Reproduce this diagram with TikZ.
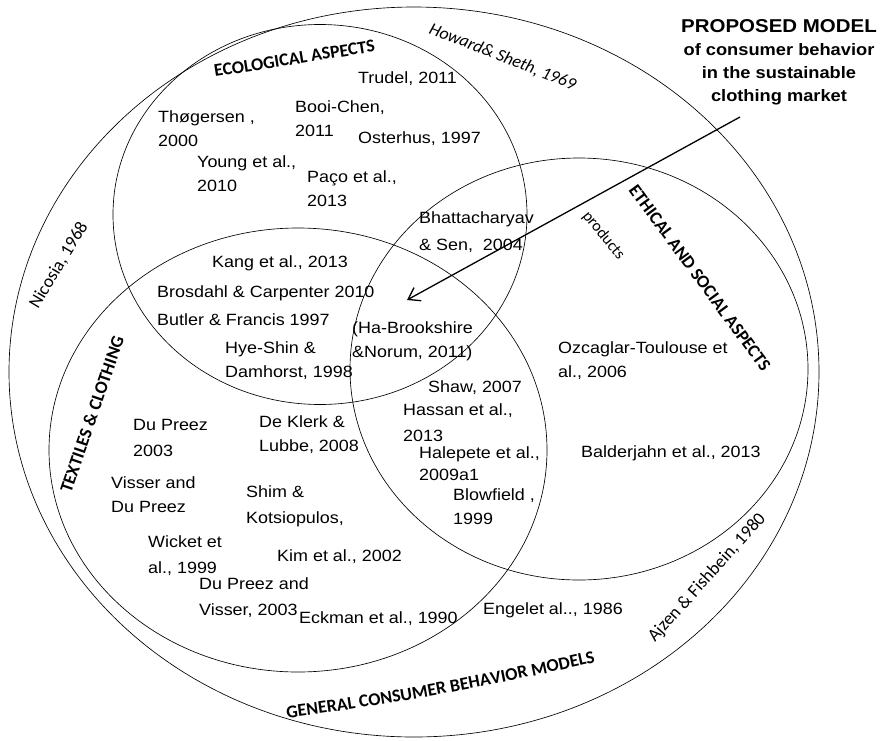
\documentclass[tikz,border=0pt]{standalone}
\usepackage{fontspec}
\usetikzlibrary{arrows.meta,decorations.text}
\newfontfamily\reffamily[FakeStretch=1.1]{Liberation Sans}
\newfontfamily\headfamily{Carlito}
\newcommand\reffont{\reffamily\fontsize{16.3}{24}\selectfont}
\newcommand\tagfont{\headfamily\bfseries\fontsize{18}{20}\selectfont}
\newcommand\authorfont{\headfamily\fontsize{18}{20}\selectfont}
\newcommand\titlefont{\reffamily\bfseries\fontsize{16.6}{23}\selectfont}
\newcommand\reflines[1]{\begin{tabular}[t]{@{}l@{}}#1\end{tabular}}

\tikzset{
  venn/.style={line width=0.65pt},
  ref/.style={anchor=base west, inner sep=0pt, font=\reffont},
  tag/.style={anchor=base west, inner sep=0pt, font=\tagfont},
  author/.style={anchor=base west, inner sep=0pt, font=\authorfont},
  pointer/.style={line width=1.3pt, -{Straight Barb[length=11pt,width=15pt]}},
}

\begin{document}
\begin{tikzpicture}[x=1pt, y=-1pt]
\path[use as bounding box] (0,0) rectangle (884,740);

% circles of the model
\coordinate (cgen) at (414,372);
\coordinate (ceco) at (320,214.5);
\coordinate (ctex) at (298,450);
\coordinate (ceth) at (579,369);
\draw[venn] (cgen) ellipse [x radius=405pt, y radius=365pt];
\draw[venn] (ceco) ellipse [x radius=207pt, y radius=190pt];
\draw[venn] (ctex) ellipse [x radius=249pt, y radius=222pt];
\draw[venn] (ceth) ellipse [x radius=229pt, y radius=211pt];

% circle titles and general models
\node[tag, rotate=9] (eco) at (215,77) {ECOLOGICAL ASPECTS};
\node[tag, rotate=71] (tex) at (71,494) {TEXTILES \& CLOTHING};
\node[tag, rotate=-53.7] (eth) at (628,190) {ETHICAL AND SOCIAL ASPECTS};
\node[author, font=\headfamily\fontsize{16}{18}\selectfont, rotate=-51] (prod) at (582,216) {products};
\node[author, font=\headfamily\itshape\fontsize{17.5}{20}\selectfont, rotate=-21.5] (howard) at (428,33) {Howard\& Sheth, 1969};
\node[author, rotate=59] (nicosia) at (38,310) {Nicosia, 1968};
\node[author, rotate=48] (ajzen) at (655,643) {Ajzen \& Fishbein, 1980};
\coordinate (gcstart) at (287,718);
\coordinate (gcend) at (593,663);
\path[decorate, decoration={text along path, text align=left,
    text={|\tagfont|GENERAL CONSUMER BEHAVIOR MODELS}}]
  (gcstart) .. controls (372.3,707.7) and (474.3,689.3) .. (gcend) -- ++(30,-8);

% proposed model and its pointer
\node[anchor=base, inner sep=0pt, font=\titlefont] (model) at (779,32)
  {\begin{tabular}[t]{@{}c@{}}{\fontsize{18.6}{23}\selectfont PROPOSED MODEL}\\of consumer behavior\\in the sustainable\\clothing market\end{tabular}};
\coordinate (arrowtail) at (740,117);
\coordinate (arrowtip) at (407,300);
\draw[pointer] (arrowtail) -- (arrowtip);

% ecological aspects
\node[ref] (trudel) at (358,83) {Trudel, 2011};
\node[ref] (thog) at (158,122) {\reflines{Thøgersen ,\\2000}};
\node[ref] (booi) at (295,112) {\reflines{Booi-Chen,\\2011}};
\node[ref] (oster) at (358,143) {Osterhus, 1997};
\node[ref] (young) at (197,167) {\reflines{Young et al.,\\2010}};
\node[ref] (paco) at (307,182) {\reflines{Paço et al.,\\2013}};
\node[ref] (bhatt) at (419,223) {\reflines{Bhattacharyav\\[3pt]\& Sen,\ \ 2004}};

% ecological and textiles
\node[ref] (kang) at (212,267) {Kang et al., 2013};
\node[ref] (brosd) at (157,297) {Brosdahl \& Carpenter 2010};
\node[ref] (butler) at (157,325) {Butler \& Francis 1997};
\node[ref] (hyeshin) at (225,353) {\reflines{Hye-Shin \&\\Damhorst, 1998}};
\node[ref] (habrook) at (352,333) {\reflines{(Ha-Brookshire\\\&Norum, 2011)}};

% textiles and ethical
\node[ref] (shaw) at (428,392) {Shaw, 2007};
\node[ref] (hassan) at (403,415) {\reflines{Hassan et al.,\\[2pt]2013}};
\node[ref] (halep) at (419,458) {\reflines{Halepete et al.,\\[-2pt]2009a1}};
\node[ref] (blow) at (453,500) {\reflines{Blowfield ,\\1999}};

% ethical and social aspects
\node[ref] (ozcag) at (558,353) {\reflines{Ozcaglar-Toulouse et\\al., 2006}};
\node[ref] (balder) at (581,457) {Balderjahn et al., 2013};

% textiles and clothing
\node[ref] (dup1) at (133,430) {\reflines{Du Preez\\[2pt]2003}};
\node[ref] (deklerk) at (259,427) {\reflines{De Klerk \&\\Lubbe, 2008}};
\node[ref] (visser) at (111,488) {\reflines{Visser and\\Du Preez}};
\node[ref] (shim) at (246,497) {\reflines{Shim \&\\[2pt]Kotsiopulos,}};
\node[ref] (wicket) at (148,547) {\reflines{Wicket et\\[2pt]al., 1999}};
\node[ref] (kim) at (277,561) {Kim et al., 2002};
\node[ref] (dup2) at (199,589) {\reflines{Du Preez and\\[2pt]Visser, 2003}};
\node[ref] (eckman) at (299,623) {Eckman et al., 1990};

% general consumer behavior models
\node[ref] (engel) at (483,614) {Engelet al.., 1986};
\end{tikzpicture}
\end{document}
